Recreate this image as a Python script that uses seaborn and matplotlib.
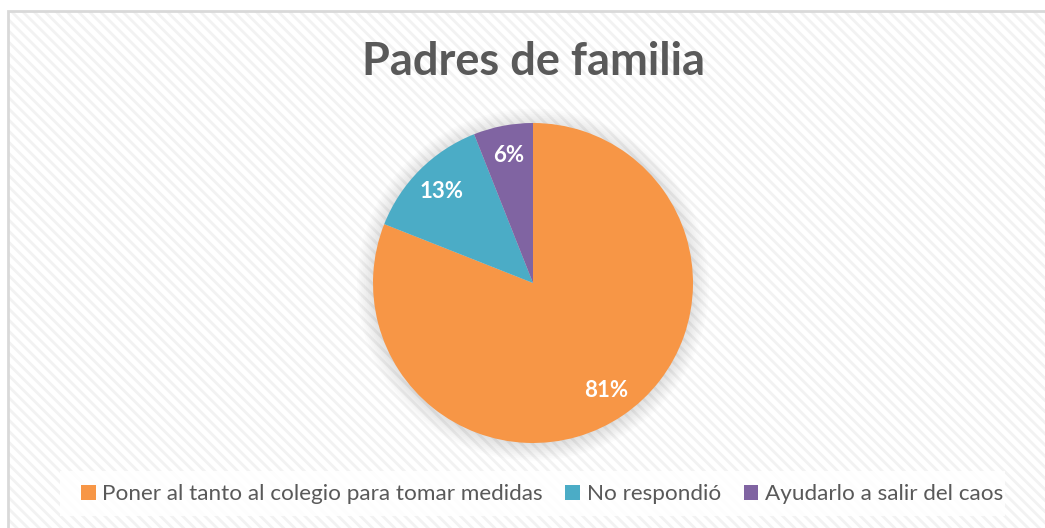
import numpy as np
import seaborn as sns
import matplotlib.pyplot as plt
from matplotlib.patches import Rectangle, Circle, Patch

# data
labels = ["Poner al tanto al colegio para tomar medidas", "No respondió", "Ayudarlo a salir del caos"]
values = [81, 13, 6]
colors = ["#F79646", "#4BACC6", "#8064A2"]
title = "Padres de familia"

sns.set_theme(style="white")
plt.rcParams["font.family"] = ["Lato", "DejaVu Sans"]
plt.rcParams["hatch.linewidth"] = 2.0

W, H = 1045, 528
fig = plt.figure(figsize=(W / 100, H / 100), dpi=100)
fig.patch.set_facecolor("white")

# chart area with diagonal stripes and gray border
x0, y0 = 8 / W, 1 - 11 / H
bg = Rectangle((x0, -0.1), 1.1, y0 + 0.1, transform=fig.transFigure,
               facecolor="white", edgecolor="#F2F2F2", hatch="\\\\\\", lw=0, zorder=-3)
fig.patches.append(bg)
border = Rectangle((x0, -0.1), 1.1, y0 + 0.1, transform=fig.transFigure,
                   facecolor="none", edgecolor="#D9D9D9", lw=2, zorder=-2)
fig.patches.append(border)

fig.text(533 / W, 1 - 62 / H, title, ha="center", va="center",
         fontsize=32.5, fontweight="bold", color="#595959")

# pie
cx, cy, r = 533, 283, 160
ax = fig.add_axes([(cx - r) / W, (H - cy - r) / H, 2 * r / W, 2 * r / H])
ax.set_zorder(1)

# soft shadow
for s in np.linspace(1.1, 1.0, 10):
    ax.add_patch(Circle((0, -0.01), s, facecolor="#000000", alpha=0.012, lw=0,
                        zorder=0, clip_on=False))

wedges, texts, autotexts = ax.pie(
    values, colors=colors, startangle=90, counterclock=False, radius=1,
    autopct=lambda p: f"{p:.0f}%", pctdistance=0.81,
    wedgeprops=dict(linewidth=0),
    textprops=dict(color="white", fontsize=16, fontweight="bold"),
)
for w in wedges:
    w.set_zorder(2)
for t in autotexts:
    t.set_zorder(3)
ax.set_xlim(-1, 1)
ax.set_ylim(-1, 1)
ax.set_aspect("equal")
ax.axis("off")

# legend
lb = Rectangle((60 / W, 1 - 516 / H), 945 / W, 45 / H, transform=fig.transFigure,
               facecolor="white", edgecolor="none", alpha=0.85, zorder=-1)
fig.patches.append(lb)
handles = [Patch(facecolor=c, edgecolor="none") for c in colors]
fig.legend(handles, labels, loc="center", bbox_to_anchor=(542 / W, 1 - 494 / H),
           ncol=3, frameon=False, fontsize=16.2, labelcolor="#595959",
           handlelength=0.65, handleheight=0.65, handletextpad=0.3, columnspacing=1.0)

fig.savefig("out.png", dpi=100)
